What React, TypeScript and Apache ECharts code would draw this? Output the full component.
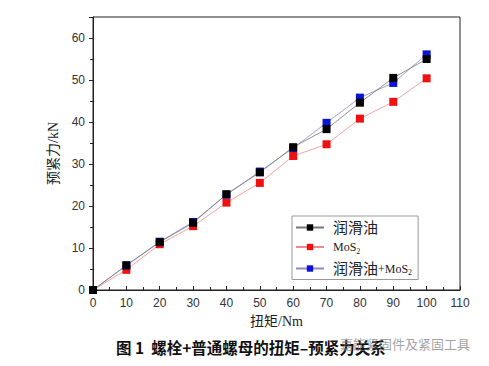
import React, { useEffect, useRef } from "react";
import * as echarts from "echarts";

const torque = [0, 10, 20, 30, 40, 50, 60, 70, 80, 90, 100];
const oilValues = [0, 5.9, 11.4, 16.0, 22.8, 28.0, 34.0, 38.3, 44.6, 50.5, 55.0];
const mos2Values = [0, 4.8, 10.9, 15.2, 20.8, 25.5, 31.9, 34.7, 40.8, 44.8, 50.4];
const oilMos2Values = [0, 5.8, 11.5, 16.2, 22.7, 28.2, 33.8, 39.8, 45.8, 49.3, 56.1];
const seriesNames = ["润滑油", "MoS2", "润滑油+MoS2"];

const pairs = (ys: number[]) => torque.map((x, i) => [x, ys[i]]);

export default function App() {
  const ref = useRef<HTMLDivElement>(null);
  useEffect(() => {
    const chart = echarts.init(ref.current!, null, { renderer: "svg" });
    const latin = "'Liberation Sans', Arial, sans-serif";
    const serif = "'Liberation Serif', 'Noto Sans CJK SC', serif";
    chart.setOption({
      animation: false,
      backgroundColor: "#ffffff",
      grid: {
        left: 93,
        right: 29,
        top: 17,
        bottom: 76,
        show: true,
        borderColor: "#222",
        borderWidth: 1,
      },
      xAxis: {
        type: "value",
        min: 0,
        max: 110,
        interval: 10,
        name: "扭矩/Nm",
        nameLocation: "middle",
        nameGap: 24,
        nameTextStyle: { fontFamily: serif, fontSize: 14, color: "#222" },
        axisLine: { lineStyle: { color: "#222", width: 1 } },
        axisTick: { inside: true, length: 4, lineStyle: { color: "#222" } },
        minorTick: { show: true, splitNumber: 2, length: 3, lineStyle: { color: "#222" } },
        splitLine: { show: false },
        axisLabel: { fontFamily: latin, fontSize: 12, color: "#333", margin: 7 },
      },
      yAxis: {
        type: "value",
        min: 0,
        max: 65,
        interval: 10,
        name: "预紧力/kN",
        nameLocation: "middle",
        nameGap: 29,
        nameRotate: 90,
        nameTextStyle: { fontFamily: serif, fontSize: 14, color: "#222" },
        axisLine: { lineStyle: { color: "#222", width: 1 } },
        axisTick: { inside: false, length: 4, lineStyle: { color: "#222" } },
        minorTick: { show: true, splitNumber: 2, length: 3, lineStyle: { color: "#222" } },
        splitLine: { show: false },
        axisLabel: {
          fontFamily: latin,
          fontSize: 12,
          color: "#333",
          margin: 8,
          formatter: (v: number) => (v > 60 ? "" : String(v)),
        },
      },
      legend: {
        orient: "vertical",
        left: 292,
        top: 216,
        width: 122,
        padding: [4, 6, 3, 3],
        backgroundColor: "#fff",
        borderColor: "#999",
        borderWidth: 1,
        itemWidth: 28,
        itemHeight: 8,
        itemGap: 6,
        data: seriesNames,
        formatter: (name: string) => {
          if (name === "润滑油") return "{c|润滑油}";
          if (name === "MoS2") return "{m|MoS}{s|2}";
          return "{c|润滑油}{p|+MoS}{s|2}";
        },
        textStyle: {
          fontFamily: serif,
          fontSize: 14,
          color: "#222",
          rich: {
            c: { fontFamily: serif, fontSize: 15, color: "#222", padding: [0, 0, 0, 4] },
            m: { fontFamily: "'Liberation Serif', serif", fontSize: 12, color: "#222", padding: [0, 0, 0, 4] },
            p: { fontFamily: "'Liberation Serif', serif", fontSize: 12, color: "#222" },
            s: { fontFamily: "'Liberation Serif', serif", fontSize: 8, color: "#222", verticalAlign: "bottom", padding: [8, 0, 0, 0] },
          },
        },
      },
      series: [
        {
          name: seriesNames[0],
          type: "line",
          data: pairs(oilValues),
          symbol: "rect",
          symbolSize: 8,
          itemStyle: { color: "#000" },
          lineStyle: { color: "#777", width: 0.8 },
          z: 3,
        },
        {
          name: seriesNames[1],
          type: "line",
          data: pairs(mos2Values),
          symbol: "rect",
          symbolSize: 8,
          itemStyle: { color: "#f01010" },
          lineStyle: { color: "#f08a8a", width: 0.8 },
          z: 2,
        },
        {
          name: seriesNames[2],
          type: "line",
          data: pairs(oilMos2Values),
          symbol: "rect",
          symbolSize: 8,
          itemStyle: { color: "#0a14d8" },
          lineStyle: { color: "#8a8ac4", width: 0.8 },
          z: 2,
        },
      ],
      graphic: [
        {
          type: "text",
          left: 116,
          top: 339,
          style: {
            text: "图 1  螺栓+普通螺母的扭矩–预紧力关系",
            font: "bold 15.5px 'Noto Sans CJK SC', sans-serif",
            fill: "#111",
          },
        },
        {
          type: "text",
          left: 340,
          top: 337,
          style: {
            text: "嘉能紧固件及紧固工具",
            font: "13px 'Noto Sans CJK SC', sans-serif",
            fill: "rgba(120,120,120,0.7)",
          },
        },
      ],
    });
    return () => chart.dispose();
  }, []);
  return <div ref={ref} style={{ width: 489, height: 366, position: "absolute", left: 0, top: 0 }} />;
}
